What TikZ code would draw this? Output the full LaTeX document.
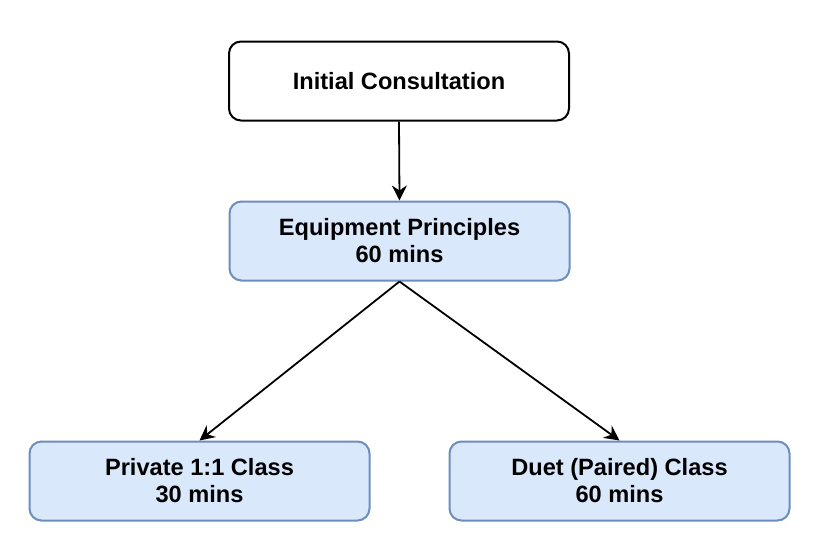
\documentclass[tikz,border=0pt]{standalone}
\usepackage{fontspec}
\setmainfont{Liberation Sans}
\usetikzlibrary{arrows.meta}
\definecolor{boxfill}{HTML}{DAE8FC}
\definecolor{boxdraw}{HTML}{6C8EBF}
\begin{document}
\begin{tikzpicture}[x=1pt,y=-1pt,
  base/.style={rounded corners=12pt, minimum width=340pt, minimum height=79pt,
    align=center, font=\fontsize{23.6}{27}\selectfont\bfseries, line width=2pt, inner sep=0pt},
  whitebox/.style={base, draw=black, fill=white},
  bluebox/.style={base, draw=boxdraw, fill=boxfill},
  conn/.style={line width=1.8pt, -{Stealth[length=15pt,width=15pt,inset=5pt]}}]
\useasboundingbox (0,0) rectangle (816,558);
\node[whitebox] (init) at (399,81) {Initial Consultation};
\node[bluebox] (equip) at (399.5,241) {Equipment Principles\\60 mins};
\node[bluebox] (priv) at (199.5,481) {Private 1:1 Class\\30 mins};
\node[bluebox] (duet) at (619.5,481) {Duet (Paired) Class\\60 mins};
\draw[conn] (init.south) -- (equip.north);
\draw[conn] (equip.south) -- (priv.north);
\draw[conn] (equip.south) -- (duet.north);
\end{tikzpicture}
\end{document}
